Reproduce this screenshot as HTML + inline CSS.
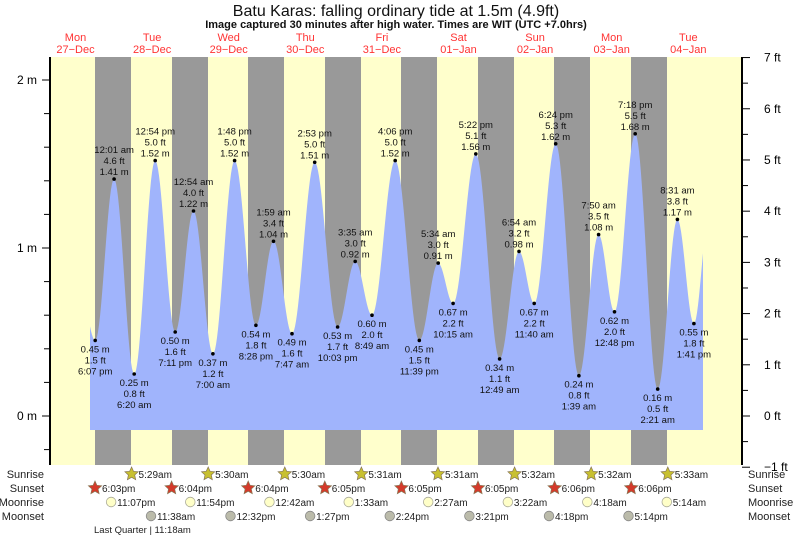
<!DOCTYPE html>
<html><head><meta charset="utf-8"><style>
html,body{margin:0;padding:0;background:#fff;}
svg{display:block;font-family:"Liberation Sans",sans-serif;}
</style></head><body>
<svg id="s" width="793" height="537" xmlns="http://www.w3.org/2000/svg"></svg>
<script>
var s=document.getElementById('s');var out='';
function X(t){return 37.4+t*76.6/24;}
function Y(h){return 416-168*h;}
out+='<rect x="50" y="57" width="692" height="408" fill="#ffffcc"/>';
[95,172,248,325,401,478,554,631].forEach(function(x){out+='<rect x="'+x+'" y="57" width="36" height="408" fill="#999"/>';});
var T=[[12,0.95],[18.12,0.45,'6:07 pm',1.5],[24.02,1.41,'12:01 am',4.6],[30.33,0.25,'6:20 am',0.8],[36.9,1.52,'12:54 pm',5.0],[43.18,0.50,'7:11 pm',1.6],[48.9,1.22,'12:54 am',4.0],[55,0.37,'7:00 am',1.2],[61.8,1.52,'1:48 pm',5.0],[68.47,0.54,'8:28 pm',1.8],[73.98,1.04,'1:59 am',3.4],[79.78,0.49,'7:47 am',1.6],[86.88,1.51,'2:53 pm',5.0],[94.05,0.53,'10:03 pm',1.7],[99.58,0.92,'3:35 am',3.0],[104.82,0.60,'8:49 am',2.0],[112.1,1.52,'4:06 pm',5.0],[119.65,0.45,'11:39 pm',1.5],[125.57,0.91,'5:34 am',3.0],[130.25,0.67,'10:15 am',2.2],[137.37,1.56,'5:22 pm',5.1],[144.82,0.34,'12:49 am',1.1],[150.9,0.98,'6:54 am',3.2],[155.67,0.67,'11:40 am',2.2],[162.4,1.62,'6:24 pm',5.3],[169.65,0.24,'1:39 am',0.8],[175.83,1.08,'7:50 am',3.5],[180.8,0.62,'12:48 pm',2.0],[187.3,1.68,'7:18 pm',5.5],[194.35,0.16,'2:21 am',0.5],[200.52,1.17,'8:31 am',3.8],[205.68,0.55,'1:41 pm',1.8],[210.5,1.2]];
var pts=[];var x0=90,x1=703;
for(var x=x0;x<=x1;x+=1){var t=(x-37.4)*24/76.6;
 for(var i=0;i<T.length-1;i++){if(t>=T[i][0]&&t<=T[i+1][0]){var f=(t-T[i][0])/(T[i+1][0]-T[i][0]);var h=T[i][1]+(T[i+1][1]-T[i][1])*(1-Math.cos(Math.PI*f))/2;pts.push(x+','+Y(h).toFixed(1));break;}}}
out+='<path d="M'+x0+',430 L'+pts.join(' L')+' L'+x1+',430 Z" fill="#a0b4fc"/>';
for(var i=1;i<T.length-1;i++){var e=T[i];var x=X(e[0]),y=Y(e[1]);var hi=e[1]>T[i-1][1];
 out+='<circle cx="'+x.toFixed(1)+'" cy="'+y.toFixed(1)+'" r="1.8" fill="#000"/>';
 var L=hi?[e[2],e[3].toFixed(1)+' ft',e[1].toFixed(2)+' m']:[e[1].toFixed(2)+' m',e[3].toFixed(1)+' ft',e[2]];
 var b=hi?[y-26,y-15,y-4]:[y+12,y+23,y+34];
 for(var k=0;k<3;k++)out+='<text x="'+x.toFixed(1)+'" y="'+b[k].toFixed(1)+'" font-size="9.5" text-anchor="middle" fill="#111">'+L[k]+'</text>';}
out+='<line x1="50" y1="57" x2="50" y2="465" stroke="#000" stroke-width="2"/><line x1="742" y1="57" x2="742" y2="465" stroke="#000" stroke-width="2"/>';
for(var h=-0.2;h<=2.2;h+=0.2){var y=Y(h);if(y<57||y>465)continue;out+='<line x1="44" x2="50" y1="'+y+'" y2="'+y+'" stroke="#000"/>';}
[[2,'2 m'],[1,'1 m'],[0,'0 m']].forEach(function(a){var y=Y(a[0]);out+='<line x1="42" x2="50" y1="'+y+'" y2="'+y+'" stroke="#000"/><text x="37" y="'+(y+4)+'" font-size="12" text-anchor="end">'+a[1]+'</text>';});
for(var f=-1;f<=7;f+=0.5){var y=Y(f*0.3048);out+='<line x1="742" x2="'+(f%1==0?750:748)+'" y1="'+y+'" y2="'+y+'" stroke="#000"/>';if(f%1==0)out+='<text x="764" y="'+(y+4)+'" font-size="12">'+(f<0?'\u22121':f)+' ft</text>';}
out+='<text x="396" y="16" font-size="16" text-anchor="middle" fill="#111">Batu Karas: falling  ordinary tide at 1.5m (4.9ft)</text>';
out+='<text x="396" y="28" font-size="11" font-weight="bold" text-anchor="middle" fill="#111">Image captured 30 minutes after high water. Times are WIT (UTC +7.0hrs)</text>';
var D=[['Mon','27\u2212Dec'],['Tue','28\u2212Dec'],['Wed','29\u2212Dec'],['Thu','30\u2212Dec'],['Fri','31\u2212Dec'],['Sat','01\u2212Jan'],['Sun','02\u2212Jan'],['Mon','03\u2212Jan'],['Tue','04\u2212Jan']];
D.forEach(function(d,i){var x=75.5+76.6*i;out+='<text x="'+x+'" y="41" font-size="11" fill="#f33" text-anchor="middle">'+d[0]+'</text><text x="'+x+'" y="53" font-size="11" fill="#f33" text-anchor="middle">'+d[1]+'</text>';});
var R=[['Sunrise',478],['Sunset',492],['Moonrise',506],['Moonset',520]];
R.forEach(function(r){out+='<text x="44" y="'+r[1]+'" font-size="11" text-anchor="end" fill="#222">'+r[0]+'</text><text x="748" y="'+r[1]+'" font-size="11" fill="#222">'+r[0]+'</text>';});
function star(x,y,c){var p=[];for(var k=0;k<10;k++){var a=-Math.PI/2+k*Math.PI/5,r=k%2?3.3:7;p.push((x+r*Math.cos(a)).toFixed(1)+','+(y+r*Math.sin(a)).toFixed(1));}return '<polygon points="'+p.join(' ')+'" fill="'+c+'" stroke="#875" stroke-width="0.7"/>';}
var sr=['5:29am','5:30am','5:30am','5:31am','5:31am','5:32am','5:32am','5:33am'];
sr.forEach(function(t,i){var x=X(24*(i+1)+5.5);out+=star(x,474,'#c8c030')+'<text x="'+(x+7)+'" y="478" font-size="10" fill="#222">'+t+'</text>';});
var ss=['6:03pm','6:04pm','6:04pm','6:05pm','6:05pm','6:05pm','6:06pm','6:06pm'];
ss.forEach(function(t,i){var x=X(24*i+18.05);out+=star(x,488,'#d43a2a')+'<text x="'+(x+7)+'" y="492" font-size="10" fill="#222">'+t+'</text>';});
var mr=[[23.1,'11:07pm'],[47.9,'11:54pm'],[72.7,'12:42am'],[97.55,'1:33am'],[122.45,'2:27am'],[147.4,'3:22am'],[172.3,'4:18am'],[197.2,'5:14am']];
mr.forEach(function(m){var x=X(m[0]);out+='<circle cx="'+x+'" cy="502" r="4.8" fill="#ffffc8" stroke="#aa9" stroke-width="0.8"/><text x="'+(x+6)+'" y="506" font-size="10" fill="#222">'+m[1]+'</text>';});
var ms=[[35.6,'11:38am'],[60.5,'12:32pm'],[85.45,'1:27pm'],[110.4,'2:24pm'],[135.35,'3:21pm'],[160.3,'4:18pm'],[185.2,'5:14pm']];
ms.forEach(function(m){var x=X(m[0]);out+='<circle cx="'+x+'" cy="516" r="4.8" fill="#bbbbaa" stroke="#888" stroke-width="0.8"/><text x="'+(x+6)+'" y="520" font-size="10" fill="#222">'+m[1]+'</text>';});
out+='<text x="94" y="533" font-size="9.5" fill="#222">Last Quarter | 11:18am</text>';
s.innerHTML=out;
</script>
</body></html>
